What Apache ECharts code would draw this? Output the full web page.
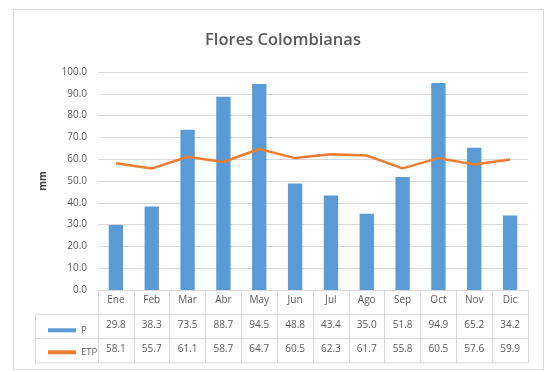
<!DOCTYPE html>
<html>
<head>
<meta charset="utf-8">
<style>
  html, body { margin: 0; padding: 0; background: #ffffff; }
  #chart { width: 550px; height: 371px; }
</style>
<script src="https://cdn.jsdelivr.net/npm/echarts@6/dist/echarts.min.js"></script>
</head>
<body>
<div id="chart"></div>
<script>
// Monthly precipitation (P) and evapotranspiration (ETP), mm
const months = ['Ene', 'Feb', 'Mar', 'Abr', 'May', 'Jun', 'Jul', 'Ago', 'Sep', 'Oct', 'Nov', 'Dic'];
const precipitation = [29.8, 38.3, 73.5, 88.7, 94.5, 48.8, 43.4, 35.0, 51.8, 94.9, 65.2, 34.2];
const evapotranspiration = [58.1, 55.7, 61.1, 58.7, 64.7, 60.5, 62.3, 61.7, 55.8, 60.5, 57.6, 59.9];
const seriesNames = ['P', 'ETP'];

const FONT = '"Open Sans", "Liberation Sans", sans-serif';
const TEXT = '#595959';
const RULE = '#d9d9d9';
const BLUE = '#5b9bd5';
const ORANGE = '#ed7d31';

// plot box and data-table geometry
const W = 550, H = 371;
const gridLeft = 98, gridRight = 22, gridTop = 72, gridBottom = 81;
const tableTop = H - gridBottom;
const rowH = 24.3;
const tableLeft = 35.5;
const tableRight = W - gridRight;

const chart = echarts.init(document.getElementById('chart'), null, { renderer: 'canvas' });

// value rows of the data table, drawn as extra category axes under the plot
function tableAxis(values, row) {
  return {
    type: 'category',
    data: months,
    position: 'bottom',
    offset: rowH * row,
    axisLine: { show: false },
    axisTick: { show: false },
    axisLabel: {
      interval: 0,
      margin: 5.5,
      color: TEXT,
      fontSize: 10,
      fontFamily: FONT,
      formatter: (v, i) => values[i].toFixed(1)
    }
  };
}

const hLines = [1, 2, 3].map(r => ({
  type: 'line',
  shape: { x1: tableLeft, y1: tableTop + rowH * r, x2: tableRight, y2: tableTop + rowH * r },
  style: { stroke: RULE, lineWidth: 1 },
  silent: true
}));

chart.setOption({
  backgroundColor: '#ffffff',
  animation: false,
  title: {
    text: 'Flores Colombianas',
    left: 278,
    top: 27,
    textAlign: 'center',
    textStyle: { color: '#595959', fontSize: 16.5, fontWeight: 600, fontFamily: FONT }
  },
  legend: {
    orient: 'vertical',
    left: 43,
    top: tableTop + rowH + 6,
    itemGap: 12,
    itemWidth: 28,
    itemHeight: 4,
    textStyle: { color: TEXT, fontSize: 9.5, fontFamily: FONT },
    data: [
      { name: seriesNames[0], icon: 'rect', itemStyle: { color: BLUE } },
      { name: seriesNames[1], icon: 'rect', itemStyle: { color: ORANGE } }
    ]
  },
  grid: { left: gridLeft, right: gridRight, top: gridTop, bottom: gridBottom },
  xAxis: [
    {
      type: 'category',
      data: months,
      boundaryGap: true,
      axisLine: { lineStyle: { color: RULE } },
      // ticks at the category boundaries form the table's column rules
      axisTick: { show: true, length: rowH * 3, lineStyle: { color: RULE } },
      axisLabel: { interval: 0, margin: 5.5, color: TEXT, fontSize: 10, fontFamily: FONT }
    },
    tableAxis(precipitation, 1),
    tableAxis(evapotranspiration, 2)
  ],
  yAxis: {
    type: 'value',
    min: 0,
    max: 100,
    interval: 10,
    name: 'mm',
    nameLocation: 'middle',
    nameRotate: 90,
    nameGap: 50,
    nameTextStyle: { color: '#404040', fontSize: 10, fontWeight: 'bold', fontFamily: FONT },
    axisLine: { show: false },
    axisTick: { show: false },
    axisLabel: {
      margin: 11,
      color: TEXT,
      fontSize: 10,
      fontFamily: FONT,
      formatter: v => v.toFixed(1)
    },
    splitLine: { lineStyle: { color: RULE } }
  },
  series: [
    {
      name: seriesNames[0],
      type: 'bar',
      data: precipitation,
      barWidth: '40%',
      itemStyle: { color: BLUE }
    },
    {
      name: seriesNames[1],
      type: 'line',
      data: evapotranspiration,
      symbol: 'none',
      lineStyle: { color: ORANGE, width: 2.5 },
      itemStyle: { color: ORANGE },
      z: 3
    }
  ],
  graphic: [
    {
      type: 'rect',
      shape: { x: 13.5, y: 9.5, width: 530, height: 360 },
      style: { fill: null, stroke: RULE, lineWidth: 1 },
      silent: true,
      z: -1
    },
    {
      type: 'line',
      shape: { x1: tableLeft, y1: tableTop + rowH, x2: tableLeft, y2: tableTop + rowH * 3 },
      style: { stroke: RULE, lineWidth: 1 },
      silent: true
    },
    ...hLines
  ]
});
</script>
</body>
</html>
